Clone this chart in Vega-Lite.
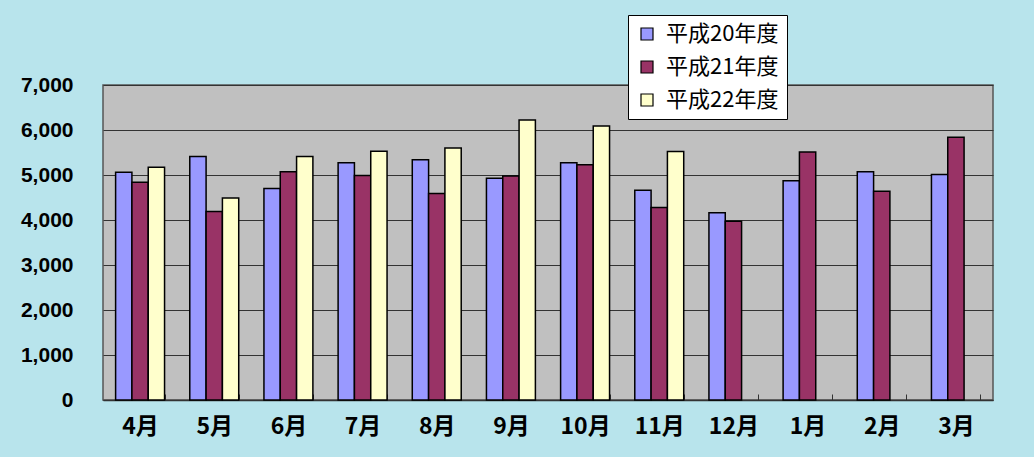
{
  "$schema": "https://vega.github.io/schema/vega-lite/v6.json",
  "width": 890,
  "height": 315,
  "padding": {"left": 103, "top": 85, "right": 41, "bottom": 57},
  "autosize": {"type": "none"},
  "background": "#B8E4EC",
  "config": {
    "view": {"fill": "#C0C0C0", "stroke": "#555555", "strokeWidth": 1.5},
    "font": "Noto Sans CJK JP"
  },
  "data": {
    "values": [
      {"month": "4月", "year": "平成20年度", "value": 5060},
      {"month": "4月", "year": "平成21年度", "value": 4840},
      {"month": "4月", "year": "平成22年度", "value": 5170},
      {"month": "5月", "year": "平成20年度", "value": 5410},
      {"month": "5月", "year": "平成21年度", "value": 4190},
      {"month": "5月", "year": "平成22年度", "value": 4490},
      {"month": "6月", "year": "平成20年度", "value": 4700},
      {"month": "6月", "year": "平成21年度", "value": 5070},
      {"month": "6月", "year": "平成22年度", "value": 5410},
      {"month": "7月", "year": "平成20年度", "value": 5270},
      {"month": "7月", "year": "平成21年度", "value": 4990},
      {"month": "7月", "year": "平成22年度", "value": 5530},
      {"month": "8月", "year": "平成20年度", "value": 5340},
      {"month": "8月", "year": "平成21年度", "value": 4590},
      {"month": "8月", "year": "平成22年度", "value": 5600},
      {"month": "9月", "year": "平成20年度", "value": 4930},
      {"month": "9月", "year": "平成21年度", "value": 4980},
      {"month": "9月", "year": "平成22年度", "value": 6220},
      {"month": "10月", "year": "平成20年度", "value": 5270},
      {"month": "10月", "year": "平成21年度", "value": 5230},
      {"month": "10月", "year": "平成22年度", "value": 6090},
      {"month": "11月", "year": "平成20年度", "value": 4660},
      {"month": "11月", "year": "平成21年度", "value": 4280},
      {"month": "11月", "year": "平成22年度", "value": 5520},
      {"month": "12月", "year": "平成20年度", "value": 4160},
      {"month": "12月", "year": "平成21年度", "value": 3970},
      {"month": "1月", "year": "平成20年度", "value": 4870},
      {"month": "1月", "year": "平成21年度", "value": 5510},
      {"month": "2月", "year": "平成20年度", "value": 5070},
      {"month": "2月", "year": "平成21年度", "value": 4640},
      {"month": "3月", "year": "平成20年度", "value": 5010},
      {"month": "3月", "year": "平成21年度", "value": 5840}
    ]
  },
  "mark": {"type": "bar", "stroke": "#000000", "strokeWidth": 1.5},
  "encoding": {
    "x": {
      "field": "month",
      "type": "nominal",
      "sort": ["4月", "5月", "6月", "7月", "8月", "9月", "10月", "11月", "12月", "1月", "2月", "3月"],
      "scale": {"paddingInner": 0.34, "paddingOuter": 0.17},
      "axis": {
        "title": null,
        "labelAngle": 0,
        "labelFont": "Noto Sans CJK JP",
        "labelFontSize": 23,
        "labelFontWeight": "bold",
        "labelColor": "#000000",
        "labelPadding": 21,
        "tickBand": "extent",
        "tickSize": -6,
        "tickColor": "#333333",
        "domainColor": "#333333",
        "domainWidth": 1.5
      }
    },
    "xOffset": {
      "field": "year",
      "type": "nominal",
      "scale": {"domain": ["平成20年度", "平成21年度", "平成22年度"], "paddingInner": 0}
    },
    "y": {
      "field": "value",
      "type": "quantitative",
      "scale": {"domain": [0, 7000]},
      "axis": {
        "title": null,
        "values": [0, 1000, 2000, 3000, 4000, 5000, 6000, 7000],
        "format": ",d",
        "labelFont": "Liberation Sans",
        "labelFontSize": 21,
        "labelFontWeight": "bold",
        "labelColor": "#000000",
        "labelPadding": 30,
        "ticks": false,
        "domain": false,
        "grid": true,
        "gridColor": "#333333",
        "gridWidth": 1
      }
    },
    "color": {
      "field": "year",
      "type": "nominal",
      "scale": {"domain": ["平成20年度", "平成21年度", "平成22年度"], "range": ["#9999FF", "#993366", "#FFFFCC"]},
      "legend": {
        "title": null,
        "orient": "none",
        "legendX": 525,
        "legendY": -70,
        "fillColor": "#FFFFFF",
        "strokeColor": "#000000",
        "padding": 8,
        "symbolType": "square",
        "symbolSize": 144,
        "symbolStrokeColor": "#000000",
        "symbolStrokeWidth": 1.2,
        "symbolOpacity": 1,
        "labelFontSize": 22,
        "labelColor": "#000000",
        "labelOffset": 8,
        "rowPadding": 11
      }
    }
  }
}
